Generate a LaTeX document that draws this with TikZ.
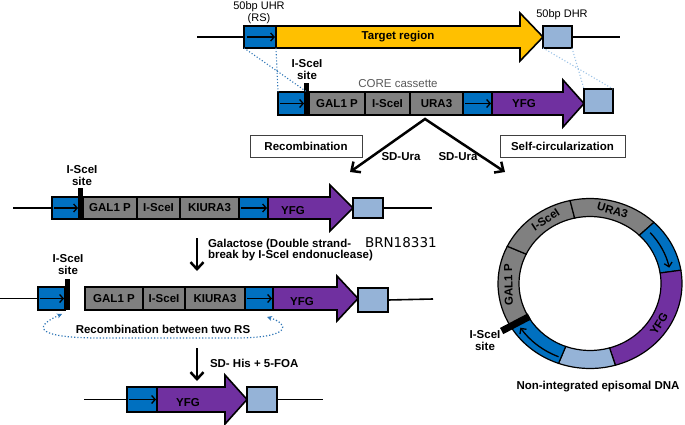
\documentclass[tikz,border=0pt]{standalone}
\usepackage{fontspec}
\setmainfont{Liberation Sans}
\newfontfamily\brnfont{DejaVu Sans}
\usetikzlibrary{arrows.meta}
\definecolor{bluD}{HTML}{0070C0}
\definecolor{bluL}{HTML}{95B3D7}
\definecolor{yel}{HTML}{FFC000}
\definecolor{purp}{HTML}{7030A0}
\definecolor{grayB}{HTML}{808080}
\definecolor{dotB}{HTML}{2E75B6}
\definecolor{dotL}{HTML}{9DC3E6}
\newcommand{\lblfont}{\fontsize{11.5}{13}\selectfont\bfseries}
\newcommand{\regfont}{\fontsize{11}{13}\selectfont}
\newcommand{\ringseg}[3]{\filldraw[fill=#3, draw=black, line width=1.2pt] (#1:92 and 85) arc[start angle=#1, end angle=#2, x radius=92, y radius=85] -- (#2:71 and 67) arc[start angle=#2, end angle=#1, x radius=71, y radius=67] -- cycle;}
\tikzset{
  every node/.style={inner sep=0pt, outer sep=0pt},
  dna/.style={line width=1.6pt},
  seg/.style={draw, line width=1.6pt},
  bbox/.style={seg, fill=bluD},
  gbox/.style={seg, fill=grayB, font=\lblfont},
  lbox/.style={seg, fill=bluL},
  lab/.style={font=\lblfont, align=center},
  inarr/.style={line width=1.3pt, -{Straight Barb[length=3.5pt,width=8pt]}},
  bigarr/.style={line width=2.5pt, line join=miter},
  tagbox/.style={draw=black!75, line width=0.8pt, font=\lblfont},
  sitebar/.style={fill=black},
}
\begin{document}
\begin{tikzpicture}[x=1pt,y=-1pt]
\useasboundingbox (0,0) rectangle (685,425);

% ---------- Row 1: target locus ----------
\node[bbox, minimum width=32pt, minimum height=22pt] (uhr) at (260,37) {};
\coordinate (l1a) at (197,37);
\draw[dna] (l1a) -- (uhr.west);
\draw[inarr] ([xshift=3pt]uhr.west) -- ([xshift=-1pt]uhr.east);
\draw[seg, fill=yel] (276,26) -- (520,26) -- (520,13) -- (543,37) -- (520,61) -- (520,48) -- (276,48) -- cycle;
\node[lab] (target) at (398,37) {Target region};
\node[lbox, minimum width=29pt, minimum height=22pt] (dhr) at (557.5,37) {};
\coordinate (l1b) at (620,37);
\draw[dna] (dhr.east) -- (l1b);
\node[font=\regfont] (uhrlab) at (259,7) {50bp UHR};
\node[font=\regfont] (rslab) at (259,19) {(RS)};
\node[font=\regfont] (dhrlab) at (562,15) {50bp DHR};

% ---------- Row 2: CORE cassette ----------
\node[bbox, minimum width=29pt, minimum height=23pt] (b2a) at (292.5,103.5) {};
\draw[inarr] ([xshift=2pt]b2a.west) -- ([xshift=-3pt]b2a.east);
\node[sitebar, minimum width=5pt, minimum height=32pt] (site2) at (306.5,99) {};
\node[gbox, minimum width=56pt, minimum height=23pt] (gal2) at (337,103.5) {GAL1 P};
\node[gbox, minimum width=45pt, minimum height=23pt] (isc2) at (387.5,103.5) {I-SceI};
\node[gbox, minimum width=53pt, minimum height=23pt] (ura2) at (436.5,103.5) {URA3};
\node[bbox, minimum width=29pt, minimum height=23pt] (b2b) at (477.5,103.5) {};
\draw[inarr] ([xshift=2pt]b2b.west) -- ([xshift=-1pt]b2b.east);
\draw[seg, fill=purp] (492,92) -- (563,92) -- (563,80) -- (584,103.5) -- (563,127) -- (563,115) -- (492,115) -- cycle;
\node[lab] (yfg2) at (524,104) {YFG};
\node[lbox, minimum width=29pt, minimum height=24pt] (lb2) at (598.5,101) {};
\node[lab] (site2lab) at (307,70) {I-SceI\\[-1pt]site};
\node[font=\fontsize{11.5}{13}\selectfont, text=black!65] (corelab) at (398,84) {CORE cassette};

% dotted homology lines
\draw[dotB, dotted, line width=1.1pt] (uhr.south west) -- (b2a.north east);
\draw[dotB, dotted, line width=1.1pt] (uhr.south east) -- (b2a.north west);
\draw[dotL, dotted, line width=1.1pt] (dhr.south west) -- (lb2.north east);
\draw[dotL, dotted, line width=1.1pt] (dhr.south east) -- (lb2.north west);

% ---------- split arrows ----------
\coordinate (split) at (425,119);
\coordinate (recT) at (350,172);
\coordinate (selfT) at (505,172);
\draw[bigarr, {Straight Barb[length=7pt,width=13pt]}-{Straight Barb[length=7pt,width=13pt]}] (recT) -- (split) -- (selfT);
\node[tagbox, minimum width=112pt, minimum height=22pt] (recbox) at (306,146) {Recombination};
\node[tagbox, minimum width=125pt, minimum height=22pt] (selfbox) at (562.5,146) {Self-circularization};
\node[lab] (sdu1) at (401,157) {SD-Ura};
\node[lab] (sdu2) at (458,157) {SD-Ura};

% ---------- Row 3: integrated ----------
\node[bbox, minimum width=28pt, minimum height=22pt] (b3a) at (66,208) {};
\coordinate (l3a) at (13,208);
\draw[dna] (l3a) -- (b3a.west);
\draw[inarr] ([xshift=2pt]b3a.west) -- ([xshift=-2pt]b3a.east);
\node[sitebar, minimum width=5pt, minimum height=32pt] (site3) at (80.5,204) {};
\node[gbox, minimum width=54pt, minimum height=22pt] (gal3) at (110,208) {GAL1 P};
\node[gbox, minimum width=43pt, minimum height=22pt] (isc3) at (158.5,208) {I-SceI};
\node[gbox, minimum width=59pt, minimum height=22pt] (klu3) at (209.5,208) {KIURA3};
\node[bbox, minimum width=29pt, minimum height=22pt] (b3b) at (253.5,208) {};
\draw[inarr] ([xshift=2pt]b3b.west) -- ([xshift=-1pt]b3b.east);
\draw[seg, fill=purp] (268,197) -- (330,197) -- (330,185) -- (353,208) -- (330,231) -- (330,219) -- (268,219) -- cycle;
\node[lab] (yfg3) at (293,211) {YFG};
\node[lbox, minimum width=30pt, minimum height=20pt] (lb3) at (368,208) {};
\coordinate (l3b) at (432,208);
\draw[dna] (lb3.east) -- (l3b);
\node[lab] (site3lab) at (82,175.5) {I-SceI\\[-1pt]site};

% galactose arrow
\coordinate (d1s) at (197,238);
\coordinate (d1e) at (197,271);
\draw[bigarr, -{Straight Barb[length=7pt,width=13pt]}] (d1s) -- (d1e);
\node[lab, anchor=west, align=left] (galtxt) at (208,250) {Galactose (Double strand-\\[-1.5pt]break by I-SceI endonuclease)};
\node[font=\brnfont\fontsize{13.5}{15}\selectfont, anchor=west] (brn) at (365,243) {BRN18331};

% ---------- Row 4: after DSB ----------
\node[bbox, minimum width=27pt, minimum height=23pt] (b4a) at (51.5,298.5) {};
\coordinate (l4a) at (0,298.5);
\draw[dna] (l4a) -- (b4a.west);
\draw[inarr] ([xshift=2pt]b4a.west) -- ([xshift=-1pt]b4a.east);
\node[sitebar, minimum width=5pt, minimum height=31pt] (site4) at (67.5,294.5) {};
\node[gbox, minimum width=58pt, minimum height=23pt] (gal4) at (114,298.5) {GAL1 P};
\node[gbox, minimum width=42pt, minimum height=23pt] (isc4) at (164,298.5) {I-SceI};
\node[gbox, minimum width=60pt, minimum height=23pt] (klu4) at (215,298.5) {KIURA3};
\node[bbox, minimum width=28pt, minimum height=23pt] (b4b) at (259,298.5) {};
\draw[inarr] ([xshift=2pt]b4b.west) -- ([xshift=-1pt]b4b.east);
\draw[seg, fill=purp] (273,287) -- (337,287) -- (337,276) -- (358,298.5) -- (337,321) -- (337,310) -- (273,310) -- cycle;
\node[lab] (yfg4) at (302,302) {YFG};
\node[lbox, minimum width=30pt, minimum height=24pt] (lb4) at (373,300) {};
\coordinate (l4b) at (433,299);
\draw[dna] (lb4.east) -- (l4b);
\node[lab] (site4lab) at (68,264.5) {I-SceI\\[-1pt]site};

% recombination between RS
\coordinate (rcL) at (62,314);
\coordinate (rcR) at (267,317);
\draw[dotB, dotted, line width=1.2pt, {Stealth[length=5pt,width=5pt]}-{Stealth[length=5pt,width=5pt]}] (rcL) .. controls (30,328) and (40,338) .. (100,338) -- (235,338) .. controls (292,338) and (290,324) .. (rcR);
\node[lab] (rectxt) at (163,329) {Recombination between two RS};

% SD-His arrow
\coordinate (d2s) at (197,348);
\coordinate (d2e) at (197,381);
\draw[bigarr, -{Straight Barb[length=7pt,width=13pt]}] (d2s) -- (d2e);
\node[lab, anchor=west] (histxt) at (210,363) {SD- His + 5-FOA};

% ---------- Row 5: final ----------
\node[bbox, minimum width=30pt, minimum height=25pt] (b5) at (142,399.5) {};
\coordinate (l5a) at (84,399.5);
\draw[dna] (l5a) -- (b5.west);
\draw[inarr] ([xshift=2pt]b5.west) -- ([xshift=-1pt]b5.east);
\draw[seg, fill=purp] (157,387) -- (225,387) -- (225,375) -- (247,399.5) -- (225,424) -- (225,412) -- (157,412) -- cycle;
\node[lab] (yfg5) at (188,403) {YFG};
\node[lbox, minimum width=30pt, minimum height=25pt] (lb5) at (262,399.5) {};
\coordinate (l5b) at (323,399.5);
\draw[dna] (lb5.east) -- (l5b);

% ---------- episomal ring ----------
\begin{scope}[shift={(590,283.5)}, yscale=-1]
  \ringseg{154}{211}{grayB}
  \ringseg{102.5}{154}{grayB}
  \ringseg{46}{102.5}{grayB}
  \ringseg{9}{46}{bluD}
  \ringseg{-74}{9}{purp}
  \ringseg{-110}{-74}{bluL}
  \ringseg{-149}{-110}{bluD}
  \draw[line width=1.3pt, -{Straight Barb[length=4pt,width=8pt]}] (42:81 and 76) arc[start angle=42, end angle=12, x radius=81, y radius=76];
  \draw[line width=1.3pt, -{Straight Barb[length=4pt,width=8pt]}] (-112:84 and 79) arc[start angle=-112, end angle=-146, x radius=84, y radius=79];
  \draw[line width=7pt] (-150:70 and 66) -- (-150:102 and 95);
\end{scope}
\node[lab, rotate=-16] (rura) at (612.5,210.4) {URA3};
\node[lab, rotate=33] (risc) at (545.6,219.8) {I-SceI};
\node[lab, rotate=91] (rgal) at (508.5,284.8) {GAL1 P};
\node[lab, rotate=58] (ryfg) at (659.1,323.8) {YFG};
\node[lab] (rsite) at (485,340.5) {I-SceI\\[-1pt]site};
\node[lab] (epis) at (598,387) {Non-integrated episomal DNA};
\end{tikzpicture}
\end{document}
